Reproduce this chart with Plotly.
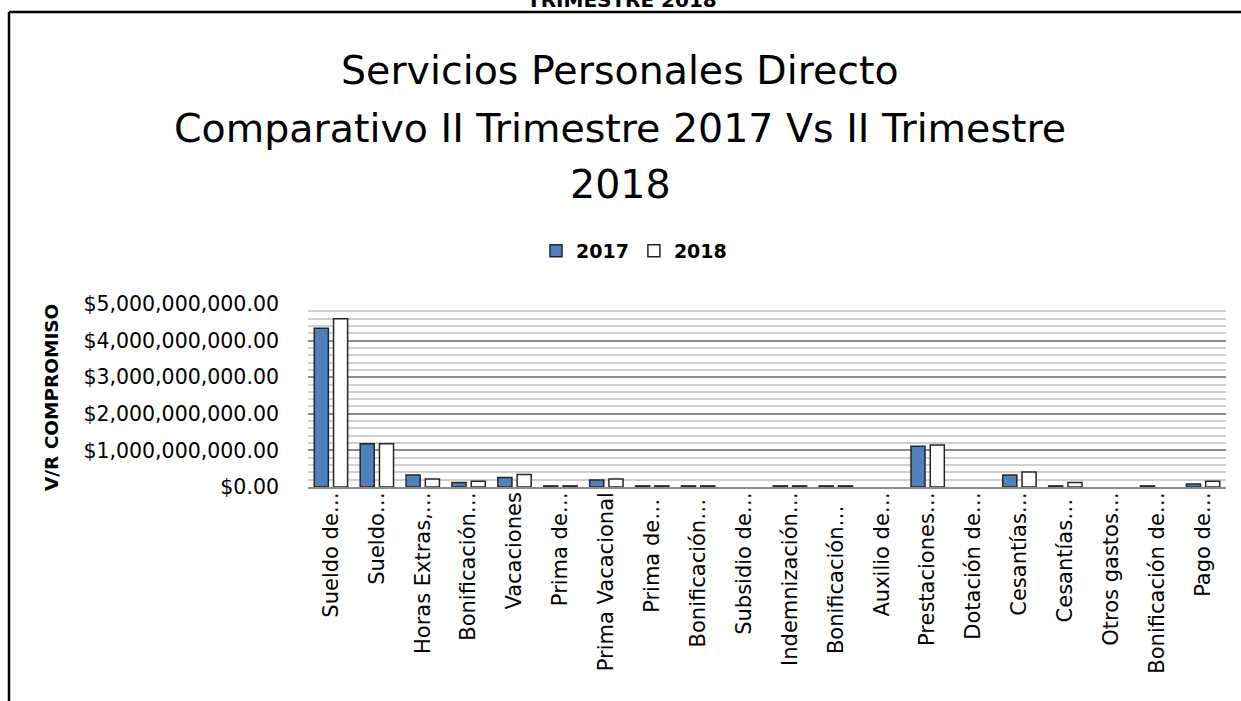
import plotly.graph_objects as go

# Budget lines (labels are shown truncated, as in the source report)
categories = [
    "Sueldo de…", "Sueldo…", "Horas Extras,…", "Bonificación…", "Vacaciones",
    "Prima de…", "Prima Vacacional", "Prima de… ", "Bonificación… ", "Subsidio de…",
    "Indemnización…", "Bonificación…  ", "Auxilio de…", "Prestaciones…", "Dotación de…",
    "Cesantías…", "Cesantías… ", "Otros gastos…", "Bonificación de…", "Pago de…",
]

# Committed value (V/R COMPROMISO) per quarter, in pesos; None = no commitment
values_2017 = [
    4_340_000_000, 1_180_000_000, 330_000_000, 120_000_000, 260_000_000,
    30_000_000, 190_000_000, 30_000_000, 30_000_000, None,
    30_000_000, 30_000_000, None, 1_110_000_000, None,
    330_000_000, 30_000_000, None, 30_000_000, 80_000_000,
]
values_2018 = [
    4_600_000_000, 1_180_000_000, 220_000_000, 160_000_000, 340_000_000,
    30_000_000, 220_000_000, 30_000_000, 30_000_000, None,
    30_000_000, 30_000_000, None, 1_150_000_000, None,
    410_000_000, 120_000_000, None, None, 160_000_000,
]

y_ticks = [0, 1e9, 2e9, 3e9, 4e9, 5e9]

W, H = 1241, 701
L, R, T, B = 308, 1226, 304, 487  # plot area in pixels

def px_x(x):
    return (x - L) / (R - L)

def px_y(y):
    return (B - y) / (B - T)

FONT = "DejaVu Sans"

fig = go.Figure()
fig.add_trace(go.Bar(
    name="2017", x=categories, y=values_2017,
    marker=dict(color="#4F81BD", line=dict(color="#262626", width=1.5)),
))
fig.add_trace(go.Bar(
    name="2018", x=categories, y=values_2018,
    marker=dict(color="#FFFFFF", line=dict(color="#262626", width=1.5)),
))

fig.update_layout(
    width=W, height=H, autosize=False,
    margin=dict(l=L, r=W - R, t=T, b=H - B, pad=0),
    paper_bgcolor="white", plot_bgcolor="white",
    barmode="group", bargap=0.16, bargroupgap=0.27,
    font=dict(family=FONT, color="black"),
    showlegend=True,
    legend=dict(
        orientation="h", x=px_x(634), xanchor="center", y=px_y(251), yanchor="middle",
        font=dict(family=FONT, size=19, weight="bold"),
        itemwidth=30, traceorder="normal",
    ),
)

fig.update_xaxes(
    tickangle=-90, tickfont=dict(size=21, family=FONT), ticklabelstandoff=-5,
    showline=True, linecolor="#8C8C8C", linewidth=1.5,
    showgrid=False, ticks="", fixedrange=True,
)
fig.update_yaxes(
    range=[0, 5e9], tickvals=y_ticks, tickformat="$,.2f",
    tickfont=dict(size=20.5, family=FONT), ticks="", ticklabelstandoff=28,
    showgrid=True, gridcolor="#8C8C8C", gridwidth=1.5,
    minor=dict(dtick=2e8, showgrid=True, gridcolor="#CFCFCF", gridwidth=1.5),
    zeroline=False, showline=False, fixedrange=True,
)

# Title (three centred lines) and axis title
title_lines = [
    ("Servicios Personales Directo", 70),
    ("Comparativo II Trimestre 2017 Vs II Trimestre", 128),
    ("2018", 184),
]
for text, ypx in title_lines:
    fig.add_annotation(
        text=text, xref="paper", yref="paper", x=px_x(620), y=px_y(ypx),
        xanchor="center", yanchor="middle", showarrow=False,
        font=dict(family=FONT, size=39.5, color="black"),
    )

fig.add_annotation(
    text="<b>V/R COMPROMISO</b>", xref="paper", yref="paper",
    x=px_x(51), y=px_y(398), xanchor="center", yanchor="middle",
    textangle=-90, showarrow=False,
    font=dict(family=FONT, size=18.5, color="black"),
)

# Heading of the page section, cut by the top edge
fig.add_annotation(
    text="<b>TRIMESTRE 2018</b>", xref="paper", yref="paper",
    x=px_x(622), y=px_y(14), xanchor="center", yanchor="bottom",
    showarrow=False, font=dict(family=FONT, size=20, color="black"),
)

# Chart frame (left and top edges)
fig.add_shape(type="line", xref="paper", yref="paper",
              x0=px_x(9), x1=px_x(9), y0=px_y(12), y1=px_y(H + 5),
              line=dict(color="black", width=2.5))
fig.add_shape(type="line", xref="paper", yref="paper",
              x0=px_x(9), x1=px_x(W + 5), y0=px_y(12), y1=px_y(12),
              line=dict(color="black", width=2.5))

fig.write_html("out.html", config={"displayModeBar": False})
